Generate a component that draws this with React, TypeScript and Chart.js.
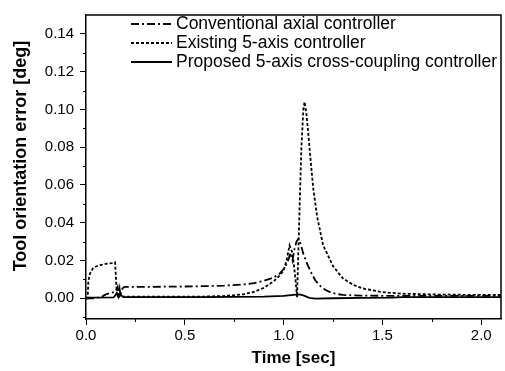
import React, { useEffect, useRef } from 'react';
import { Chart, registerables } from 'chart.js';
Chart.register(...registerables);

const seriesNames = [
  'Conventional axial controller',
  'Existing 5-axis controller',
  'Proposed 5-axis cross-coupling controller',
];
const yTitle = 'Tool orientation error [deg]';
const xTitle = 'Time [sec]';

const convT = [0, 0.05, 0.08, 0.1, 0.13, 0.15, 0.16, 0.165, 0.17, 0.175, 0.18, 0.19, 0.2, 0.3, 0.4, 0.5, 0.6, 0.7, 0.8, 0.85, 0.9, 0.95, 0.98, 1.0, 1.02, 1.035, 1.045, 1.055, 1.065, 1.075, 1.085, 1.1, 1.12, 1.14, 1.16, 1.185, 1.21, 1.24, 1.27, 1.3, 1.35, 1.4, 1.5, 1.7, 2.1];
const convY = [0, 0, 0.0008, 0.002, 0.003, 0.0035, 0.006, 0.002, 0.005, 0.001, 0.0045, 0.0058, 0.006, 0.006, 0.0061, 0.0062, 0.0064, 0.0067, 0.0073, 0.008, 0.0092, 0.011, 0.013, 0.0155, 0.019, 0.024, 0.02, 0.026, 0.03, 0.0315, 0.029, 0.0235, 0.018, 0.0135, 0.0095, 0.0065, 0.0045, 0.003, 0.0022, 0.0018, 0.0015, 0.0014, 0.0013, 0.0012, 0.0012];

const existT = [0, 0.008, 0.012, 0.02, 0.035, 0.05, 0.07, 0.1, 0.13, 0.147, 0.152, 0.157, 0.17, 0.2, 0.4, 0.6, 0.7, 0.75, 0.8, 0.85, 0.9, 0.95, 0.98, 1.0, 1.015, 1.03, 1.045, 1.058, 1.068, 1.08, 1.09, 1.1, 1.106, 1.115, 1.125, 1.135, 1.15, 1.17, 1.2, 1.25, 1.3, 1.35, 1.4, 1.5, 1.6, 1.8, 2.1];
const existY = [0, 0, 0.009, 0.013, 0.0158, 0.0168, 0.0175, 0.0182, 0.0186, 0.019, 0.01, 0.0008, 0.0008, 0.0008, 0.0008, 0.0009, 0.0012, 0.0016, 0.0022, 0.0033, 0.0055, 0.009, 0.012, 0.0147, 0.02, 0.028, 0.024, 0.012, 0.0005, 0.045, 0.08, 0.1, 0.104, 0.098, 0.087, 0.075, 0.058, 0.043, 0.028, 0.017, 0.0105, 0.0072, 0.0052, 0.0032, 0.0024, 0.0019, 0.0017];

const propT = [0, 0.14, 0.155, 0.165, 0.175, 0.19, 0.3, 0.6, 0.9, 1.0, 1.05, 1.08, 1.1, 1.13, 1.16, 1.25, 1.4, 1.55, 1.6, 2.1];
const propY = [0.0003, 0.0004, 0.0025, 0.0005, 0.0018, 0.0006, 0.0006, 0.0006, 0.0008, 0.0012, 0.0018, 0.002, 0.0015, 0.0002, -0.0002, 0, 0.0002, 0.0003, 0.0006, 0.0006];

const yTicks = [0, 0.02, 0.04, 0.06, 0.08, 0.1, 0.12, 0.14];
const yMinorTicks = [-0.01, 0.01, 0.03, 0.05, 0.07, 0.09, 0.11, 0.13];
const xTicks = [0, 0.5, 1.0, 1.5, 2.0];
const xMinorTicks = [0.25, 0.75, 1.25, 1.75];

const dashes = [[8, 3, 2, 3], [3, 2], []];
const FONT = '"Liberation Sans", Arial, sans-serif';

const toPts = (t: number[], y: number[]) => t.map((x, i) => ({ x, y: y[i] }));

const framePlugin = {
  id: 'frameAndLegend',
  afterDraw(chart: any) {
    const { ctx, chartArea } = chart;
    const { left, right, top, bottom } = chartArea;
    ctx.save();
    ctx.strokeStyle = '#000';
    ctx.lineWidth = 1.5;
    ctx.setLineDash([]);
    ctx.beginPath();
    ctx.moveTo(left, top);
    ctx.lineTo(right, top);
    ctx.lineTo(right, bottom);
    ctx.stroke();
    // minor ticks
    ctx.lineWidth = 1;
    const ys = chart.scales.y;
    const xs = chart.scales.x;
    ctx.beginPath();
    yMinorTicks.forEach((v) => {
      const p = Math.round(ys.getPixelForValue(v)) + 0.5;
      ctx.moveTo(left - 3, p);
      ctx.lineTo(left, p);
    });
    xMinorTicks.forEach((v) => {
      const p = Math.round(xs.getPixelForValue(v)) + 0.5;
      ctx.moveTo(p, bottom);
      ctx.lineTo(p, bottom + 3);
    });
    ctx.stroke();
    // y axis title
    ctx.save();
    ctx.translate(21, 156);
    ctx.rotate(-Math.PI / 2);
    ctx.font = 'bold 18px ' + FONT;
    ctx.fillStyle = '#000';
    ctx.textAlign = 'center';
    ctx.textBaseline = 'middle';
    ctx.fillText(yTitle, 0, 0);
    ctx.restore();
    // legend
    const rows = [24, 43, 62];
    ctx.font = '17.5px ' + FONT;
    ctx.fillStyle = '#000';
    ctx.textBaseline = 'middle';
    ctx.textAlign = 'left';
    chart.data.datasets.forEach((ds: any, i: number) => {
      const y = rows[i];
      ctx.lineWidth = 1.8;
      ctx.setLineDash(dashes[i]);
      ctx.beginPath();
      ctx.moveTo(131, y);
      ctx.lineTo(172, y);
      ctx.stroke();
      ctx.setLineDash([]);
      ctx.fillText(ds.label, 176, y);
    });
    ctx.restore();
  },
};

export default function App() {
  const ref = useRef<HTMLCanvasElement>(null);
  useEffect(() => {
    const canvas = ref.current!;
    const series = [toPts(convT, convY), toPts(existT, existY), toPts(propT, propY)];
    const chart = new Chart(canvas, {
      type: 'line',
      data: {
        datasets: series.map((d, i) => ({
          label: seriesNames[i],
          data: d,
          borderColor: '#000',
          borderWidth: 1.8,
          borderDash: dashes[i],
          pointRadius: 0,
          fill: false,
          tension: 0,
        })),
      },
      options: {
        animation: false,
        responsive: false,
        layout: { padding: { left: 0, right: 4, top: 13, bottom: 0 } },
        plugins: { legend: { display: false }, tooltip: { enabled: false } },
        scales: {
          x: {
            type: 'linear',
            min: 0,
            max: 2.1,
            afterFit: (s: any) => { s.height = 52; },
            afterBuildTicks: (s: any) => { s.ticks = xTicks.map((v) => ({ value: v })); },
            grid: { drawOnChartArea: false, tickLength: 6, color: '#000', tickColor: '#000' },
            border: { color: '#000', width: 1.5 },
            ticks: {
              color: '#000',
              padding: 2,
              maxRotation: 0,
              font: { family: FONT, size: 15 },
              callback: (v: any) => Number(v).toFixed(1),
            },
            title: {
              display: true,
              text: xTitle,
              color: '#000',
              font: { family: FONT, size: 17, weight: 'bold' },
              padding: { top: 0, bottom: 2 },
            },
          },
          y: {
            type: 'linear',
            min: -0.011,
            max: 0.15,
            afterFit: (s: any) => { s.width = 86; },
            afterBuildTicks: (s: any) => { s.ticks = yTicks.map((v) => ({ value: v })); },
            grid: { drawOnChartArea: false, tickLength: 6, color: '#000', tickColor: '#000' },
            border: { color: '#000', width: 1.5 },
            ticks: {
              color: '#000',
              padding: 6,
              font: { family: FONT, size: 15 },
              callback: (v: any) => Number(v).toFixed(2),
            },
            title: { display: false },
          },
        },
      },
      plugins: [framePlugin],
    });
    return () => chart.destroy();
  }, []);
  return (
    <div style={{ position: 'fixed', left: 0, top: 0, width: 505, height: 371, background: '#fff' }}>
      <canvas ref={ref} width={505} height={371} style={{ display: 'block' }} />
    </div>
  );
}
